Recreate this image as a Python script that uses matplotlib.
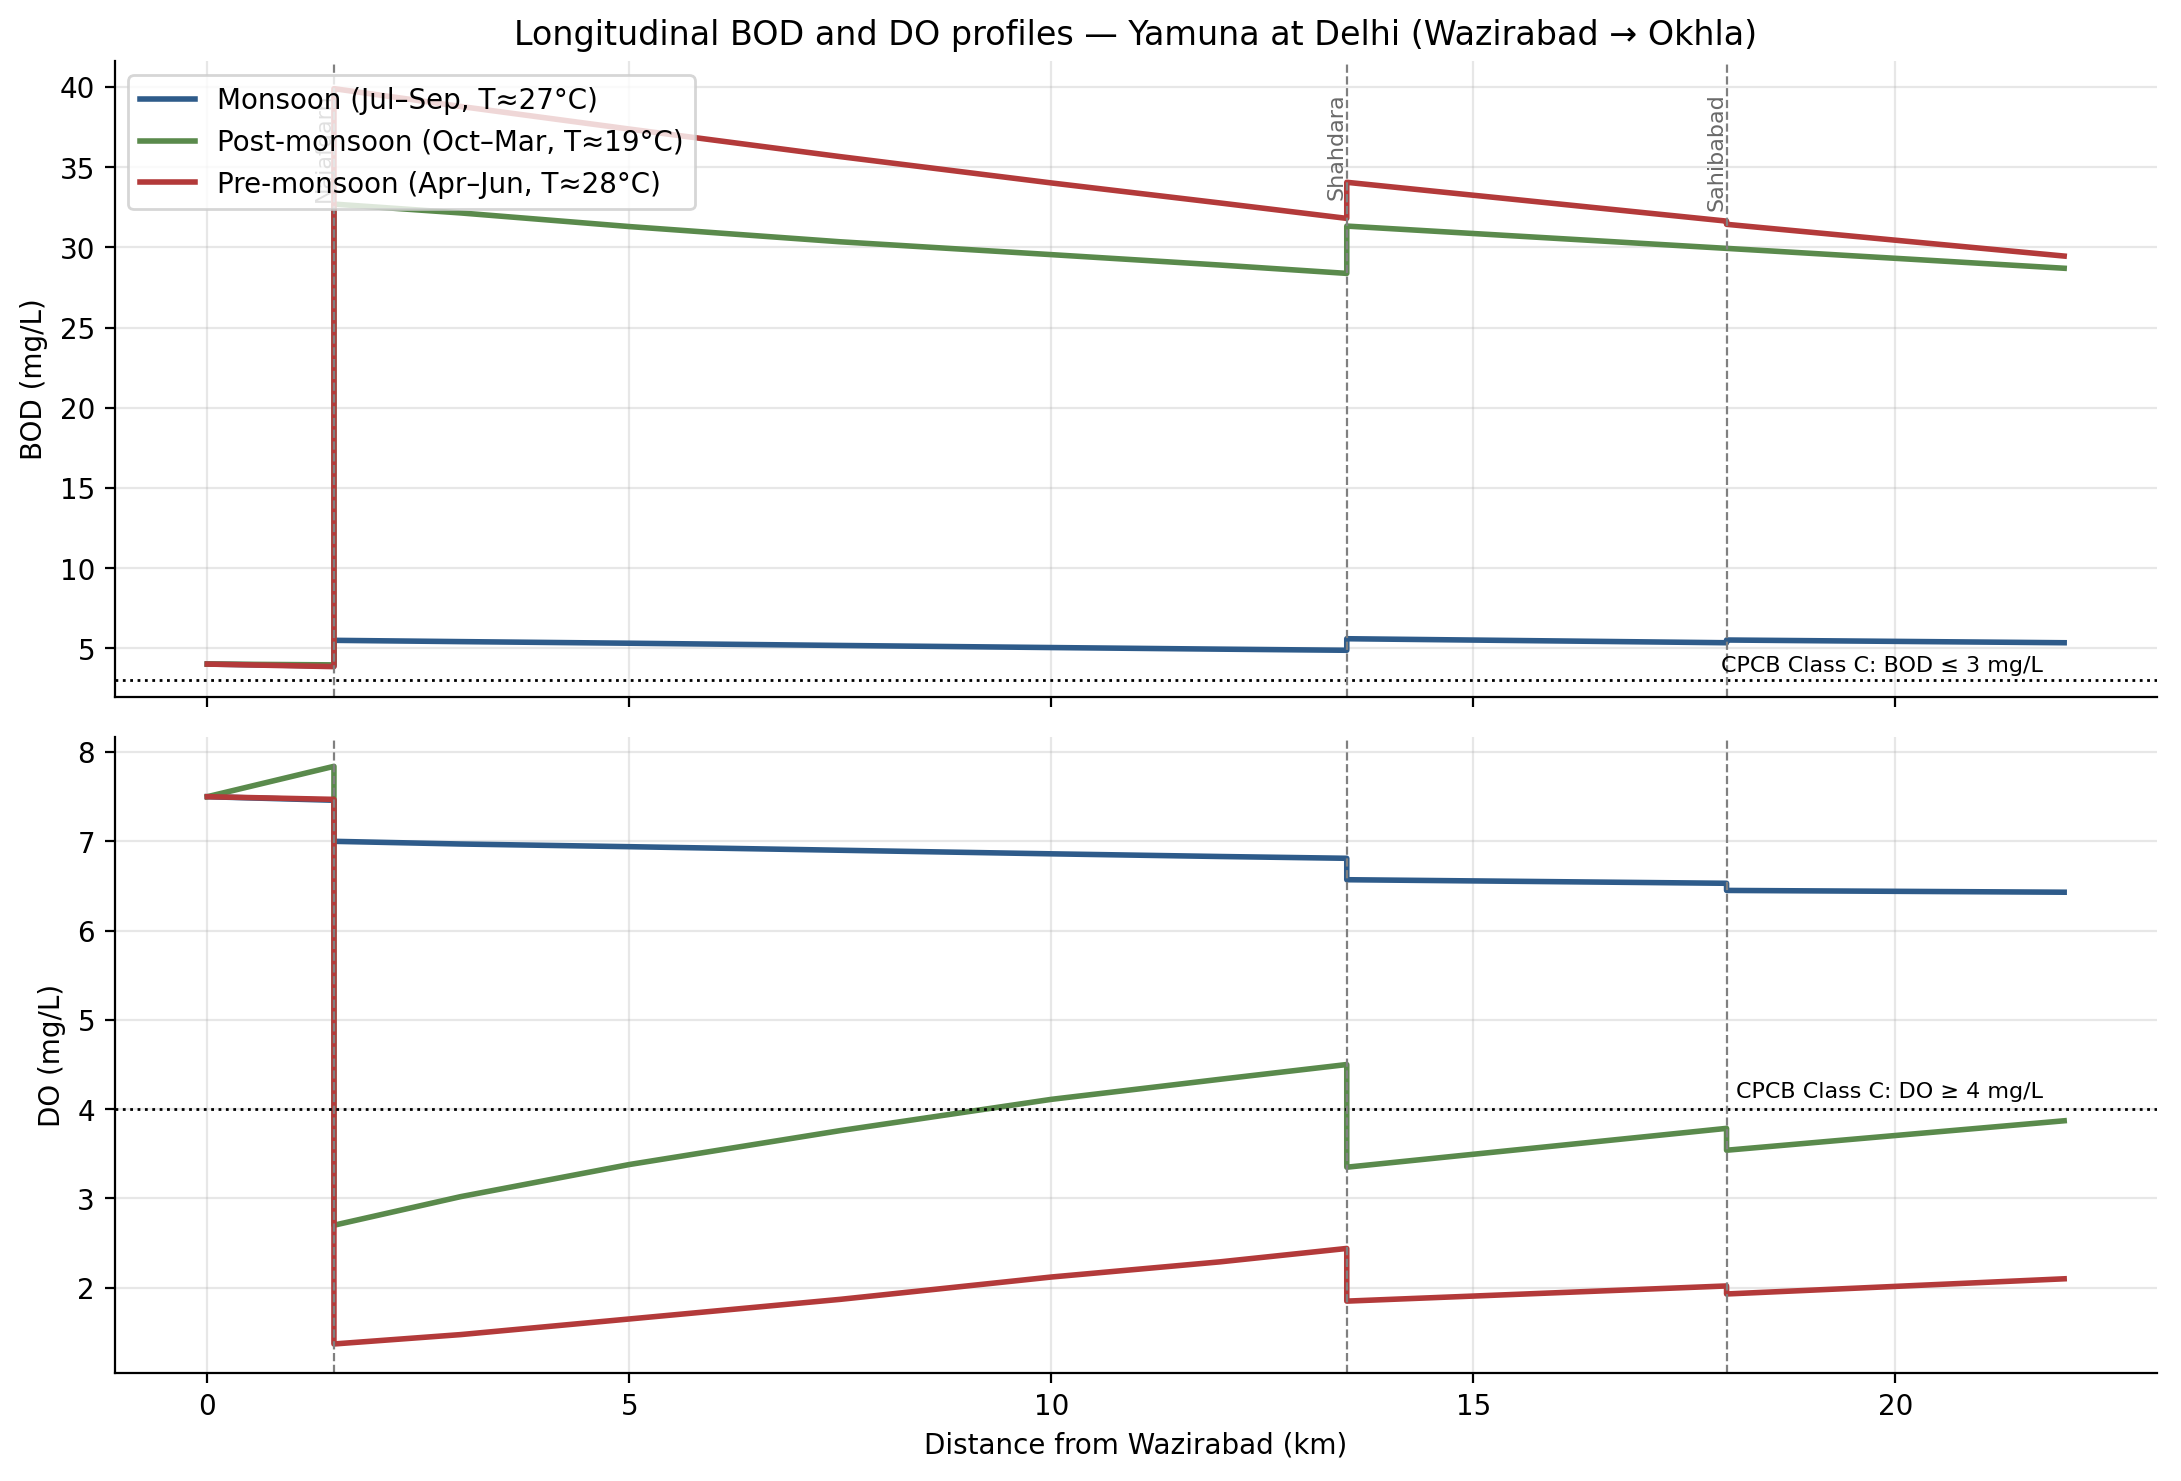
import matplotlib
matplotlib.use('Agg')
import matplotlib.pyplot as plt

# Distance along the river (km); repeated x = step at a drain outfall
km = [0, 1.5, 1.5, 3, 5, 7.5, 10, 12, 13.5, 13.5, 18, 18, 22]

# BOD (mg/L)
bod_monsoon = [4.02, 3.90, 5.50, 5.42, 5.32, 5.18, 5.05, 4.95, 4.88, 5.60, 5.35, 5.52, 5.35]
bod_post = [4.02, 3.97, 32.70, 32.15, 31.30, 30.35, 29.55, 28.90, 28.38, 31.33, 29.94, 29.94, 28.70]
bod_pre = [4.02, 3.86, 39.90, 38.79, 37.38, 35.66, 34.02, 32.77, 31.81, 34.06, 31.64, 31.44, 29.46]

# DO (mg/L)
do_monsoon = [7.50, 7.46, 7.00, 6.97, 6.94, 6.90, 6.86, 6.83, 6.81, 6.57, 6.53, 6.45, 6.43]
do_post = [7.50, 7.84, 2.70, 3.02, 3.38, 3.76, 4.11, 4.335, 4.50, 3.35, 3.785, 3.54, 3.87]
do_pre = [7.50, 7.47, 1.37, 1.475, 1.65, 1.87, 2.12, 2.29, 2.44, 1.85, 2.02, 1.93, 2.10]

labels = ['Monsoon (Jul–Sep, T≈27°C)',
          'Post-monsoon (Oct–Mar, T≈19°C)',
          'Pre-monsoon (Apr–Jun, T≈28°C)']
colors = ['#2e5b8a', '#5a8a4c', '#b33a3a']

# Drains / outfalls
drain_km = [1.5, 13.5, 18]
drain_names = ['Najafgarh', 'Shahdara', 'Sahibabad']

fig, (ax1, ax2) = plt.subplots(2, 1, sharex=True, figsize=(10.905, 7.407), dpi=200)
fig.subplots_adjust(left=0.0525, right=0.989, top=0.9583, bottom=0.073, hspace=0.064)

# Верхний график: BOD
for y, lab, c in zip([bod_monsoon, bod_post, bod_pre], labels, colors):
    ax1.plot(km, y, color=c, lw=2, label=lab)
ax1.axhline(3, color='black', ls=':', lw=1)
ax1.text(21.75, 3.3, 'CPCB Class C: BOD ≤ 3 mg/L', ha='right', va='bottom', fontsize=8)
ax1.set_ylim(1.98, 41.6)
ax1.set_ylabel('BOD (mg/L)')
ax1.set_title('Longitudinal BOD and DO profiles — Yamuna at Delhi (Wazirabad → Okhla)', fontsize=12)

# Нижний график: DO
for y, lab, c in zip([do_monsoon, do_post, do_pre], labels, colors):
    ax2.plot(km, y, color=c, lw=2, label=lab)
ax2.axhline(4, color='black', ls=':', lw=1)
ax2.text(21.75, 4.08, 'CPCB Class C: DO ≥ 4 mg/L', ha='right', va='bottom', fontsize=8)
ax2.set_ylabel('DO (mg/L)')
ax2.set_xlabel('Distance from Wazirabad (km)')

for ax in (ax1, ax2):
    for d in drain_km:
        ax.axvline(d, color='gray', ls='--', lw=0.8)
    ax.grid(True, alpha=0.3)
    ax.spines['top'].set_visible(False)
    ax.spines['right'].set_visible(False)

for d, name in zip(drain_km, drain_names):
    ax1.text(d, 0.95, name, rotation=90, ha='right', va='top', fontsize=8,
             color='dimgray', transform=ax1.get_xaxis_transform())

ax1.legend(loc='upper left', fontsize=10)

plt.savefig('out.png')
